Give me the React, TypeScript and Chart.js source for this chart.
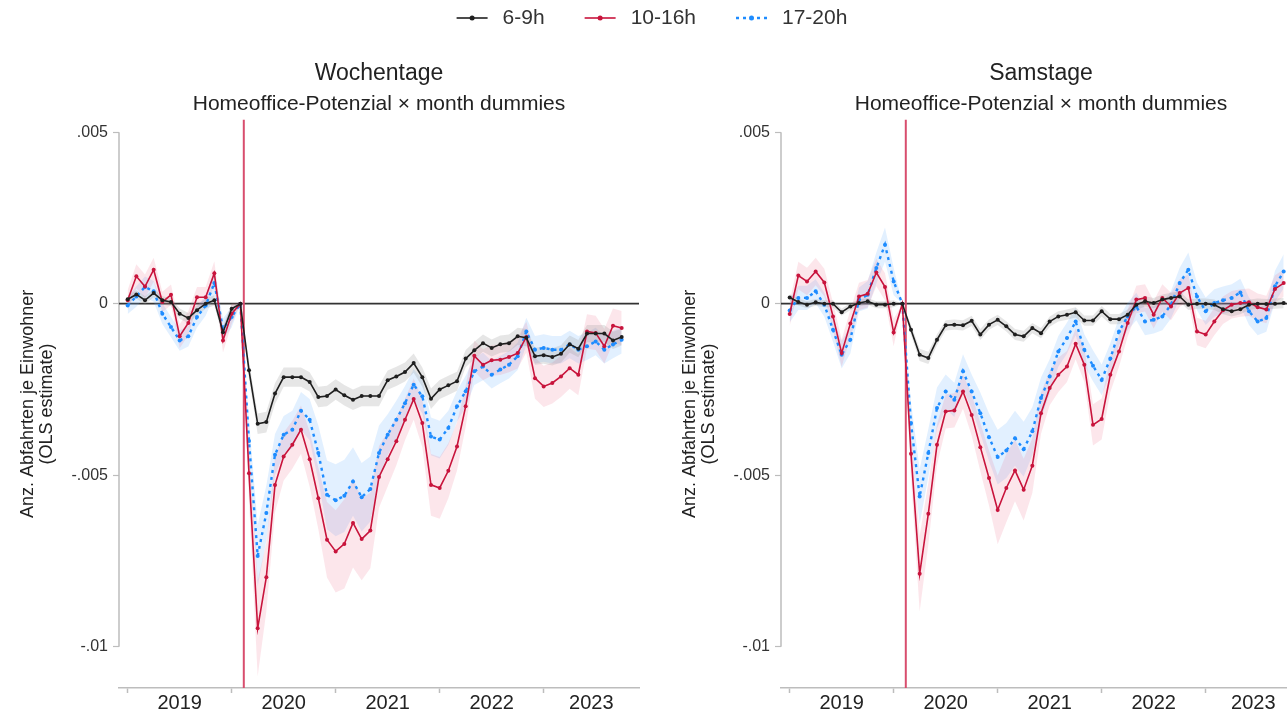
import React, { useEffect, useRef } from 'react';
import { Chart, registerables } from 'chart.js';

Chart.register(...registerables);

const FONT = '"Liberation Sans", Arial, Helvetica, sans-serif';

// ---- series meta ----
const seriesNames = ['6-9h', '10-16h', '17-20h'];
const seriesColors = ['#1f1f1f', '#c8143c', '#1e8cff'];
const bandColors = ['rgba(140,140,140,0.22)', 'rgba(235,90,120,0.15)', 'rgba(110,180,255,0.20)'];
const seriesDash: number[][] = [[], [], [3, 4]];
const seriesWidth = [1.6, 1.6, 2.4];

// ---- axes ----
const yearLabels = ['2019', '2020', '2021', '2022', '2023'];
const yearTickPositions = [0, 12, 24, 36, 48]; // month index (0 = Jan 2019)
const yearLabelPositions = [6, 18, 30, 42, 53.5];
const yTickValues = [5, 0, -5, -10]; // in 1/1000
const covidMonth = 13.4;

// ---- Wochentage (values in 1/1000), Jan 2019 .. Oct 2023 ----
const wBlack = [0.13, 0.27, 0.10, 0.31, 0.10, 0.05, -0.29, -0.42, -0.19, 0.0, 0.10, -0.83, -0.15, 0,
  -1.94, -3.50, -3.45, -2.62, -2.14, -2.14, -2.14, -2.28, -2.72, -2.69, -2.50, -2.67, -2.80, -2.69, -2.69, -2.69,
  -2.23, -2.12, -1.99, -1.73, -2.14, -2.77, -2.50, -2.38, -2.26, -1.60, -1.36, -1.15, -1.29, -1.18, -1.15, -0.95,
  -0.99, -1.53, -1.50, -1.55, -1.46, -1.18, -1.31, -0.87, -0.87, -0.87, -1.07, -0.97];
const wRed = [0.10, 0.80, 0.50, 0.99, 0.05, 0.26, -0.95, -0.56, 0.19, 0.19, 0.89, -1.07, -0.29, 0,
  -4.94, -9.46, -7.97, -5.28, -4.45, -4.11, -3.67, -4.53, -5.67, -6.88, -7.22, -7.00, -6.39, -6.86, -6.61, -5.05,
  -4.53, -4.01, -3.38, -2.78, -3.48, -5.28, -5.37, -4.87, -4.16, -2.99, -1.52, -1.78, -1.65, -1.63, -1.55, -1.44,
  -0.97, -2.17, -2.41, -2.31, -2.12, -1.88, -2.07, -0.81, -0.85, -1.24, -0.64, -0.71];
const wBlue = [-0.05, 0.21, 0.49, 0.36, -0.29, -0.68, -1.07, -0.95, -0.39, -0.05, 0.60, -0.73, -0.39, 0,
  -4.00, -7.35, -6.10, -4.40, -3.82, -3.67, -3.12, -3.38, -4.35, -5.57, -5.73, -5.60, -5.18, -5.64, -5.40, -4.35,
  -3.82, -3.38, -2.90, -2.36, -2.70, -3.87, -3.96, -3.62, -2.99, -2.55, -1.97, -1.83, -2.07, -1.92, -1.78, -1.53,
  -0.81, -1.34, -1.29, -1.34, -1.34, -1.19, -1.34, -1.24, -1.10, -1.34, -1.19, -1.05];
const wBlackCi = [0.12, 0.12, 0.12, 0.12, 0.12, 0.12, 0.15, 0.15, 0.15, 0.15, 0.15, 0.18, 0.15, 0,
  0.25, 0.30, 0.30, 0.30, 0.28, 0.28, 0.28, 0.28, 0.30, 0.30, 0.30, 0.30, 0.30, 0.30, 0.30, 0.30,
  0.28, 0.28, 0.28, 0.28, 0.28, 0.30, 0.28, 0.28, 0.28, 0.25, 0.25, 0.25, 0.25, 0.25, 0.25, 0.25,
  0.25, 0.25, 0.25, 0.25, 0.25, 0.25, 0.25, 0.25, 0.25, 0.25, 0.25, 0.25];
const wRedCi = [0.30, 0.35, 0.35, 0.35, 0.30, 0.30, 0.35, 0.35, 0.30, 0.30, 0.35, 0.35, 0.30, 0,
  0.80, 1.40, 1.00, 0.80, 0.70, 0.70, 0.70, 0.80, 0.90, 1.10, 1.20, 1.30, 1.30, 1.20, 1.10, 0.90,
  0.80, 0.70, 0.60, 0.60, 0.70, 0.90, 0.90, 0.80, 0.70, 0.60, 0.45, 0.45, 0.45, 0.45, 0.45, 0.45,
  0.45, 0.60, 0.60, 0.60, 0.60, 0.60, 0.60, 0.50, 0.50, 0.50, 0.50, 0.50];
const wBlueCi = [0.25, 0.30, 0.30, 0.30, 0.30, 0.30, 0.30, 0.30, 0.30, 0.30, 0.35, 0.30, 0.30, 0,
  0.60, 0.90, 0.80, 0.60, 0.55, 0.55, 0.55, 0.60, 0.80, 1.00, 1.05, 1.05, 1.00, 1.00, 0.95, 0.80,
  0.60, 0.55, 0.50, 0.45, 0.50, 0.55, 0.55, 0.50, 0.45, 0.45, 0.40, 0.40, 0.40, 0.40, 0.40, 0.40,
  0.40, 0.40, 0.40, 0.40, 0.40, 0.40, 0.40, 0.40, 0.40, 0.40, 0.40, 0.40];

// ---- Samstage (values in 1/1000) ----
const sBlack = [0.18, 0.05, -0.03, 0.04, 0, 0, -0.25, -0.08, 0.02, 0.07, -0.03, -0.03, 0, 0,
  -0.76, -1.49, -1.58, -1.05, -0.63, -0.61, -0.63, -0.50, -0.90, -0.61, -0.47, -0.66, -0.90, -0.95, -0.71, -0.86,
  -0.52, -0.37, -0.32, -0.25, -0.49, -0.49, -0.22, -0.45, -0.45, -0.32, -0.03, 0.07, 0.02, 0.12, 0.17, 0.21,
  -0.03, 0, 0, -0.03, -0.16, -0.22, -0.16, -0.03, 0, -0.01, 0, 0.02];
const sRed = [-0.30, 0.82, 0.65, 0.94, 0.62, -0.37, -1.44, -0.58, 0.21, 0.29, 0.91, 0.49, -0.84, 0,
  -4.37, -7.87, -6.12, -4.11, -3.14, -3.11, -2.56, -3.24, -4.18, -5.08, -6.01, -5.37, -4.86, -5.42, -4.72, -3.19,
  -2.46, -2.07, -1.83, -1.17, -1.78, -3.53, -3.36, -2.07, -1.39, -0.56, 0.12, 0.17, -0.32, 0.17, -0.08, 0.31,
  0.46, -0.81, -0.90, -0.52, -0.19, -0.03, 0.02, 0.04, -0.10, -0.17, 0.43, 0.60];
const sBlue = [-0.20, 0.17, 0.17, 0.36, -0.03, -0.76, -1.49, -1.05, 0.12, 0.26, 1.04, 1.72, 0.65, 0,
  -3.48, -5.62, -4.35, -3.04, -2.56, -2.80, -1.97, -2.56, -3.19, -3.89, -4.47, -4.28, -3.92, -4.24, -3.72, -2.75,
  -2.12, -1.39, -1.00, -0.52, -1.34, -1.81, -2.22, -1.60, -0.81, -0.37, -0.08, -0.52, -0.47, -0.37, -0.03, 0.60,
  0.99, 0.21, -0.22, 0.02, 0.10, 0.17, 0.33, -0.22, -0.52, -0.42, 0.51, 0.94];
const sBlackCi = [0.10, 0.10, 0.10, 0.10, 0.10, 0.10, 0.10, 0.10, 0.10, 0.10, 0.10, 0.10, 0.10, 0,
  0.15, 0.18, 0.18, 0.16, 0.15, 0.15, 0.15, 0.15, 0.16, 0.15, 0.15, 0.15, 0.16, 0.16, 0.15, 0.15,
  0.15, 0.15, 0.15, 0.15, 0.15, 0.15, 0.15, 0.15, 0.15, 0.15, 0.15, 0.15, 0.15, 0.15, 0.15, 0.15,
  0.15, 0.15, 0.15, 0.15, 0.15, 0.15, 0.15, 0.15, 0.15, 0.15, 0.15, 0.15];
const sRedCi = [0.35, 0.40, 0.40, 0.40, 0.40, 0.40, 0.40, 0.40, 0.40, 0.40, 0.40, 0.40, 0.40, 0,
  0.70, 1.10, 0.90, 0.60, 0.50, 0.50, 0.50, 0.60, 0.70, 0.80, 1.00, 1.00, 0.90, 0.90, 0.80, 0.60,
  0.50, 0.50, 0.45, 0.45, 0.50, 0.60, 0.60, 0.50, 0.45, 0.40, 0.40, 0.40, 0.40, 0.40, 0.40, 0.40,
  0.40, 0.40, 0.40, 0.40, 0.40, 0.40, 0.40, 0.40, 0.40, 0.40, 0.40, 0.40];
const sBlueCi = [0.35, 0.35, 0.35, 0.35, 0.35, 0.35, 0.40, 0.40, 0.35, 0.40, 0.45, 0.50, 0.40, 0,
  0.60, 0.80, 0.70, 0.60, 0.50, 0.50, 0.50, 0.50, 0.60, 0.70, 0.80, 0.80, 0.80, 0.80, 0.70, 0.60,
  0.50, 0.45, 0.45, 0.40, 0.45, 0.45, 0.45, 0.45, 0.40, 0.40, 0.40, 0.40, 0.40, 0.40, 0.40, 0.45,
  0.50, 0.40, 0.40, 0.40, 0.40, 0.40, 0.40, 0.40, 0.40, 0.40, 0.45, 0.50];

const PANEL_W = 662;
const PANEL_H = 668;
const AXIS_W = 119;

function formatTick(v: number): string {
  if (v === 0) return '0';
  return String(v / 1000).replace('0.', '.');
}

const decorPlugin = {
  id: 'decor',
  beforeDatasetsDraw(chart: any) {
    const { ctx, chartArea, scales } = chart;
    const x = scales.x;
    const y = scales.y;
    ctx.save();
    // y axis line (from top tick to bottom tick)
    ctx.strokeStyle = '#bdbdbd';
    ctx.lineWidth = 1.5;
    ctx.beginPath();
    ctx.moveTo(chartArea.left, y.getPixelForValue(yTickValues[0]));
    ctx.lineTo(chartArea.left, y.getPixelForValue(yTickValues[yTickValues.length - 1]));
    ctx.stroke();
    // zero line
    const y0 = y.getPixelForValue(0);
    ctx.strokeStyle = '#333333';
    ctx.lineWidth = 1.8;
    ctx.beginPath();
    ctx.moveTo(chartArea.left, y0);
    ctx.lineTo(chartArea.right, y0);
    ctx.stroke();
    // covid marker
    const xv = x.getPixelForValue(covidMonth);
    ctx.strokeStyle = 'rgb(216,78,110)';
    ctx.lineWidth = 2;
    ctx.beginPath();
    ctx.moveTo(xv, chartArea.top);
    ctx.lineTo(xv, chartArea.bottom);
    ctx.stroke();
    ctx.restore();
  },
};

const legendPlugin = {
  id: 'figLegend',
  afterDraw(chart: any) {
    const ctx = chart.ctx;
    ctx.save();
    ctx.font = `21px ${FONT}`;
    const sample = 31;
    const gap = 15;
    const spacing = 40;
    const widths = seriesNames.map((n) => ctx.measureText(n).width);
    const total = widths.reduce((a, w) => a + sample + gap + w, 0) + spacing * (seriesNames.length - 1);
    let x = chart.width / 2 - total / 2;
    const yc = 18;
    seriesNames.forEach((name, i) => {
      ctx.strokeStyle = seriesColors[i];
      ctx.lineWidth = seriesWidth[i];
      ctx.setLineDash(seriesDash[i]);
      ctx.beginPath();
      ctx.moveTo(x, yc);
      ctx.lineTo(x + sample, yc);
      ctx.stroke();
      ctx.setLineDash([]);
      ctx.fillStyle = seriesColors[i];
      ctx.beginPath();
      ctx.arc(x + sample / 2, yc, 2.5, 0, Math.PI * 2);
      ctx.fill();
      ctx.fillStyle = '#333';
      ctx.textBaseline = 'middle';
      ctx.textAlign = 'left';
      ctx.fillText(name, x + sample + gap, yc);
      x += sample + gap + widths[i] + spacing;
    });
    ctx.restore();
  },
};

function LegendChart() {
  const ref = useRef<HTMLCanvasElement | null>(null);
  useEffect(() => {
    if (!ref.current) return;
    const chart = new Chart(ref.current, {
      type: 'line',
      data: { datasets: [] },
      options: {
        responsive: false,
        animation: false,
        events: [],
        scales: { x: { display: false }, y: { display: false } },
        plugins: { legend: { display: false }, tooltip: { enabled: false } },
      },
      plugins: [legendPlugin],
    } as any);
    return () => chart.destroy();
  }, []);
  return <canvas ref={ref} width={1304} height={45} style={{ width: 1304, height: 45, display: 'block' }} />;
}

type PanelProps = {
  title: string;
  black: number[];
  red: number[];
  blue: number[];
  blackCi: number[];
  redCi: number[];
  blueCi: number[];
};

function Panel({ title, black, red, blue, blackCi, redCi, blueCi }: PanelProps) {
  const ref = useRef<HTMLCanvasElement | null>(null);
  useEffect(() => {
    if (!ref.current) return;
    const values = [black, red, blue];
    const cis = [blackCi, redCi, blueCi];
    const datasets: any[] = [];
    values.forEach((vals, s) => {
      datasets.push({
        label: seriesNames[s],
        data: vals.map((v, i) => ({ x: i, y: v })),
        borderColor: seriesColors[s],
        backgroundColor: seriesColors[s],
        borderWidth: seriesWidth[s],
        borderDash: seriesDash[s],
        pointRadius: 2,
        pointBorderWidth: 0,
        pointBackgroundColor: seriesColors[s],
        pointHoverRadius: 0,
        tension: 0,
        fill: false,
        order: s,
      });
    });
    values.forEach((vals, s) => {
      datasets.push({
        label: seriesNames[s] + ' upper',
        data: vals.map((v, i) => ({ x: i, y: v + cis[s][i] })),
        borderWidth: 0,
        borderColor: 'rgba(0,0,0,0)',
        pointRadius: 0,
        tension: 0,
        fill: false,
        order: 10 + s,
      });
      datasets.push({
        label: seriesNames[s] + ' lower',
        data: vals.map((v, i) => ({ x: i, y: v - cis[s][i] })),
        borderWidth: 0,
        borderColor: 'rgba(0,0,0,0)',
        backgroundColor: bandColors[s],
        pointRadius: 0,
        tension: 0,
        fill: '-1',
        order: 10 + s,
      });
    });

    const chart = new Chart(ref.current, {
      type: 'line',
      data: { datasets },
      options: {
        responsive: false,
        animation: false,
        events: [],
        layout: { padding: { left: 0, right: PANEL_W - AXIS_W - 520, top: 0, bottom: 0 } },
        scales: {
          x: {
            type: 'linear',
            min: -1,
            max: 59,
            afterBuildTicks: (axis: any) => {
              axis.ticks = [...yearTickPositions, ...yearLabelPositions]
                .sort((a, b) => a - b)
                .map((v) => ({ value: v }));
            },
            ticks: {
              autoSkip: false,
              maxRotation: 0,
              padding: 0,
              color: '#222',
              font: { family: FONT, size: 20, lineHeight: 1 },
              callback: (v: any) => {
                const k = yearLabelPositions.indexOf(Number(v));
                return k >= 0 ? yearLabels[k] : '';
              },
            },
            grid: {
              display: true,
              drawOnChartArea: false,
              drawTicks: true,
              tickLength: 5,
              tickWidth: 1.5,
              tickColor: (c: any) =>
                c.tick && yearTickPositions.includes(c.tick.value) ? '#bdbdbd' : 'rgba(0,0,0,0)',
            },
            border: { display: true, color: '#bdbdbd', width: 1.5 },
          },
          y: {
            type: 'linear',
            min: -11.2,
            max: 5.36,
            afterBuildTicks: (axis: any) => {
              axis.ticks = yTickValues.map((v) => ({ value: v }));
            },
            afterFit: (s: any) => {
              s.width = AXIS_W;
            },
            ticks: {
              padding: 5,
              color: '#333',
              font: { family: FONT, size: 16 },
              callback: (v: any) => formatTick(Number(v)),
            },
            grid: {
              display: true,
              drawOnChartArea: false,
              drawTicks: true,
              tickLength: 6,
              tickWidth: 1.2,
              tickColor: '#bdbdbd',
            },
            border: { display: false },
            title: {
              display: true,
              text: ['Anz. Abfahrten je Einwohner', '(OLS estimate)'],
              color: '#222',
              font: { family: FONT, size: 18, lineHeight: 1.05 },
              padding: { top: 19, bottom: 0 },
            },
          },
        },
        plugins: {
          legend: { display: false },
          tooltip: { enabled: false },
          title: {
            display: true,
            text: title,
            fullSize: false,
            color: '#222',
            font: { family: FONT, size: 23, weight: 'normal', lineHeight: 1.2 },
            padding: { top: 15, bottom: 0 },
          },
          subtitle: {
            display: true,
            text: 'Homeoffice-Potenzial × month dummies',
            fullSize: false,
            color: '#222',
            font: { family: FONT, size: 21, weight: 'normal', lineHeight: 1.2 },
            padding: { top: 4, bottom: 3 },
          },
        },
      },
      plugins: [decorPlugin],
    } as any);
    return () => chart.destroy();
  }, [title, black, red, blue, blackCi, redCi, blueCi]);
  return (
    <canvas
      ref={ref}
      width={PANEL_W}
      height={PANEL_H}
      style={{ width: PANEL_W, height: PANEL_H, display: 'block' }}
    />
  );
}

export default function App() {
  return (
    <div
      style={{
        position: 'fixed',
        left: 0,
        top: 0,
        width: 1287,
        height: 712,
        overflow: 'hidden',
        background: '#fff',
      }}
    >
      <div style={{ position: 'absolute', left: 0, top: 0 }}>
        <LegendChart />
      </div>
      <div style={{ position: 'absolute', left: 0, top: 45 }}>
        <Panel title="Wochentage" black={wBlack} red={wRed} blue={wBlue} blackCi={wBlackCi} redCi={wRedCi} blueCi={wBlueCi} />
      </div>
      <div style={{ position: 'absolute', left: PANEL_W, top: 45 }}>
        <Panel title="Samstage" black={sBlack} red={sRed} blue={sBlue} blackCi={sBlackCi} redCi={sRedCi} blueCi={sBlueCi} />
      </div>
    </div>
  );
}
